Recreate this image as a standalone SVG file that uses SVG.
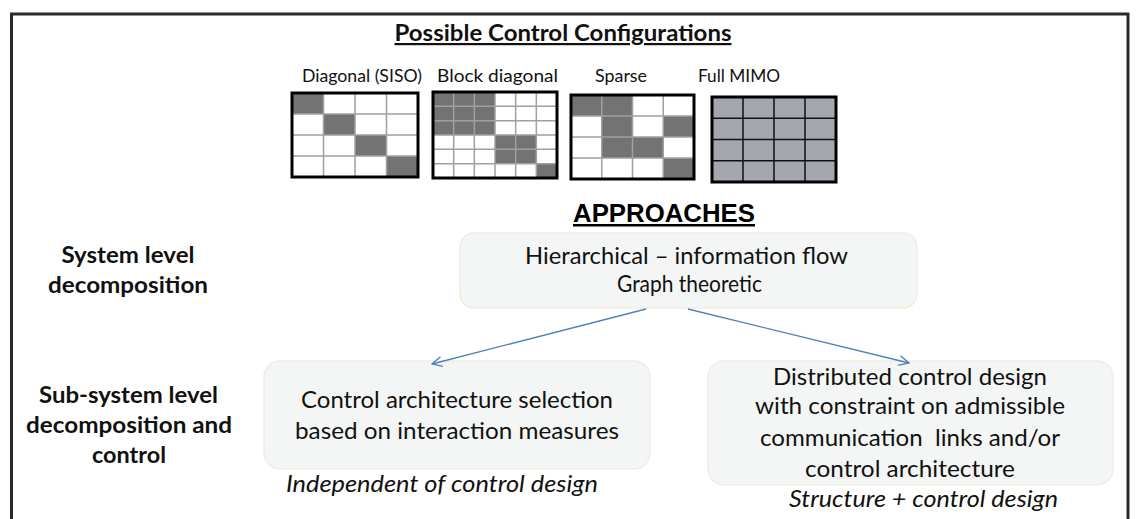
<svg xmlns="http://www.w3.org/2000/svg" width="1138" height="519" viewBox="0 0 1138 519">
<defs>
<style>
.t{font-family:Lato,"Open Sans","Liberation Sans",sans-serif;fill:#111;}
.b{font-weight:bold;}
.i{font-style:italic;}
.box{fill:#f4f6f5;stroke:#efeedd;stroke-width:1.5;}
.frame{fill:none;stroke:#2a2a2a;stroke-width:3;}
.mo{fill:none;stroke:#000;stroke-width:3;}
.g{stroke:#a0a0a0;stroke-width:1.5;fill:none;}
.gk{stroke:#111;stroke-width:1.5;fill:none;}
.dk{fill:#737373;}
.conn{stroke:#4f81bd;stroke-width:1.3;fill:none;marker-end:url(#ah);}
</style>
<marker id="ah" viewBox="0 0 12 12" refX="11" refY="6" markerWidth="12" markerHeight="12" markerUnits="userSpaceOnUse" orient="auto">
<path d="M1,1 L11,6 L1,11" fill="none" stroke="#4f81bd" stroke-width="1.3"/>
</marker>
</defs>
<rect width="1138" height="519" fill="#fff"/>
<path class="frame" d="M11.5,530 V14 H1128 V530"/>

<g id="title">
<text class="t b" x="563" y="41" font-size="22" text-anchor="middle" textLength="337" lengthAdjust="spacingAndGlyphs" text-decoration="underline">Possible Control Configurations</text>
</g>

<g id="diagonal">
<text class="t" x="362" y="82" font-size="17" text-anchor="middle" textLength="120" lengthAdjust="spacingAndGlyphs">Diagonal (SISO)</text>
<rect x="292" y="93" width="126" height="84" fill="#fff"/>
<rect class="dk" x="292" y="93" width="31.5" height="21"/>
<rect class="dk" x="323.5" y="114" width="31.5" height="21"/>
<rect class="dk" x="355" y="135" width="31.5" height="21"/>
<rect class="dk" x="386.5" y="156" width="31.5" height="21"/>
<path class="g" d="M323.5,93V177M355,93V177M386.5,93V177M292,114H418M292,135H418M292,156H418"/>
<rect class="mo" x="292" y="93" width="126" height="84"/>
</g>

<g id="block-diagonal">
<text class="t" x="497.5" y="82" font-size="17" text-anchor="middle" textLength="121" lengthAdjust="spacingAndGlyphs">Block diagonal</text>
<rect x="433" y="92" width="124" height="86" fill="#fff"/>
<rect class="dk" x="433" y="92" width="62" height="43"/>
<rect class="dk" x="495" y="135" width="41.33" height="28.67"/>
<rect class="dk" x="536.33" y="163.67" width="20.67" height="14.33"/>
<path class="g" d="M453.67,92V178M474.33,92V178M495,92V178M515.67,92V178M536.33,92V178M433,106.33H557M433,120.67H557M433,135H557M433,149.33H557M433,163.67H557"/>
<rect class="mo" x="433" y="92" width="124" height="86"/>
</g>

<g id="sparse">
<text class="t" x="621" y="82" font-size="17" text-anchor="middle" textLength="52" lengthAdjust="spacingAndGlyphs">Sparse</text>
<rect x="571" y="95" width="123" height="84" fill="#fff"/>
<rect class="dk" x="571" y="95" width="61.5" height="21"/>
<rect class="dk" x="601.75" y="116" width="30.75" height="42"/>
<rect class="dk" x="663.25" y="116" width="30.75" height="21"/>
<rect class="dk" x="632.5" y="137" width="30.75" height="21"/>
<rect class="dk" x="663.25" y="158" width="30.75" height="21"/>
<path class="g" d="M601.75,95V179M632.5,95V179M663.25,95V179M571,116H694M571,137H694M571,158H694"/>
<rect class="mo" x="571" y="95" width="123" height="84"/>
</g>

<g id="full-mimo">
<text class="t" x="739" y="82" font-size="17" text-anchor="middle" textLength="82" lengthAdjust="spacingAndGlyphs">Full MIMO</text>
<rect x="712" y="97" width="124" height="85" fill="#a5a7af"/>
<path class="gk" d="M743,97V182M774,97V182M805,97V182M712,118.25H836M712,139.5H836M712,160.75H836"/>
<rect class="mo" x="712" y="97" width="124" height="85"/>
</g>

<g id="approaches">
<text x="664" y="222" font-family="'Liberation Sans',Arial,sans-serif" font-weight="bold" font-size="25" fill="#000" text-anchor="middle" textLength="182" lengthAdjust="spacingAndGlyphs" text-decoration="underline">APPROACHES</text>
</g>

<g id="label-system">
<text class="t b" x="128" y="263" font-size="23" text-anchor="middle" textLength="133" lengthAdjust="spacingAndGlyphs">System level</text>
<text class="t b" x="128" y="293" font-size="23" text-anchor="middle" textLength="160" lengthAdjust="spacingAndGlyphs">decomposition</text>
</g>

<g id="label-subsystem">
<text class="t b" x="128.5" y="403" font-size="23" text-anchor="middle" textLength="179" lengthAdjust="spacingAndGlyphs">Sub-system level</text>
<text class="t b" x="129" y="433" font-size="23" text-anchor="middle" textLength="206" lengthAdjust="spacingAndGlyphs">decomposition and</text>
<text class="t b" x="129" y="463" font-size="23" text-anchor="middle" textLength="74" lengthAdjust="spacingAndGlyphs">control</text>
</g>

<g id="node-hierarchical">
<rect class="box" x="460" y="233" width="457" height="75" rx="14"/>
<text class="t" x="686.5" y="264" font-size="24" text-anchor="middle" textLength="323" lengthAdjust="spacingAndGlyphs">Hierarchical – information flow</text>
<text class="t" x="689.5" y="292" font-size="24" text-anchor="middle" textLength="145" lengthAdjust="spacingAndGlyphs">Graph theoretic</text>
</g>

<g id="node-architecture">
<rect class="box" x="264" y="361" width="386" height="108" rx="16"/>
<text class="t" x="457" y="408" font-size="24" text-anchor="middle" textLength="312" lengthAdjust="spacingAndGlyphs">Control architecture selection</text>
<text class="t" x="457" y="439" font-size="24" text-anchor="middle" textLength="324" lengthAdjust="spacingAndGlyphs">based on interaction measures</text>
<text class="t i" x="442" y="492" font-size="24" text-anchor="middle" textLength="312" lengthAdjust="spacingAndGlyphs">Independent of control design</text>
</g>

<g id="node-distributed">
<rect class="box" x="708" y="361" width="405" height="124" rx="16"/>
<text class="t" x="910" y="385" font-size="24" text-anchor="middle" textLength="274" lengthAdjust="spacingAndGlyphs">Distributed control design</text>
<text class="t" x="910" y="414" font-size="24" text-anchor="middle" textLength="310" lengthAdjust="spacingAndGlyphs">with constraint on admissible</text>
<text class="t" x="910" y="446" font-size="24" text-anchor="middle" textLength="300" lengthAdjust="spacingAndGlyphs" xml:space="preserve">communication  links and/or</text>
<text class="t" x="910" y="477" font-size="24" text-anchor="middle" textLength="210" lengthAdjust="spacingAndGlyphs">control architecture</text>
<text class="t i" x="923.5" y="507" font-size="24" text-anchor="middle" textLength="269" lengthAdjust="spacingAndGlyphs">Structure + control design</text>
</g>

<g id="connectors">
<line class="conn" x1="646" y1="309" x2="432" y2="364"/>
<line class="conn" x1="688" y1="309" x2="909" y2="363"/>
</g>
</svg>
